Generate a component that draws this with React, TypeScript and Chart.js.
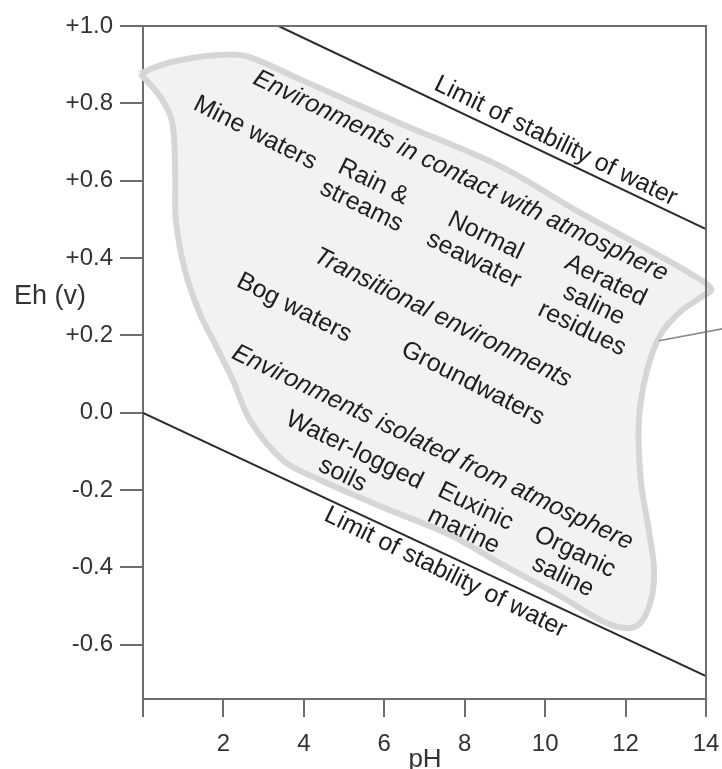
import React, { useEffect, useRef } from 'react';
import { Chart, registerables } from 'chart.js';

Chart.register(...registerables);

const FONT = "'Liberation Sans', Arial, Helvetica, sans-serif";
const AXIS_COLOR = '#6e6e6e';
const TEXT_COLOR = '#1e1e1e';

const X_TICKS = [0, 2, 4, 6, 8, 10, 12, 14];
const X_TICK_LABELS = ['', '2', '4', '6', '8', '10', '12', '14'];
const Y_TICKS = [-0.6, -0.4, -0.2, 0, 0.2, 0.4, 0.6, 0.8, 1.0];
const Y_TICK_LABELS = ['-0.6', '-0.4', '-0.2', '0.0', '+0.2', '+0.4', '+0.6', '+0.8', '+1.0'];
const X_MIN = 0;
const X_MAX = 14;
const Y_MIN = -0.74;
const Y_MAX = 1.0;

// Outline of the natural-environments field (pH, Eh)
const REGION_PH = [
  -0.07, 0.5, 1.35, 2.17, 2.67, 3.91, 6.4, 8.89, 10.89, 12.63, 13.63, 14.13,
  13.88, 13.38, 12.88, 12.53, 12.33, 12.38, 12.58, 12.71, 12.63, 12.38, 12.01,
  11.39, 10.39, 8.89, 7.65, 5.98, 5.16, 4.33, 3.49, 2.67, 2.24, 1.84, 1.42,
  1.05, 0.82, 0.8, 0.72, 0.42, -0.07,
];
const REGION_EH = [
  0.877, 0.901, 0.919, 0.926, 0.919, 0.862, 0.748, 0.637, 0.516, 0.418, 0.359, 0.32,
  0.299, 0.263, 0.204, 0.108, -0.021, -0.175, -0.305, -0.408, -0.485, -0.542, -0.557,
  -0.537, -0.475, -0.39, -0.317, -0.245, -0.209, -0.17, -0.124, -0.021, 0.083, 0.168, 0.255,
  0.366, 0.495, 0.625, 0.754, 0.818, 0.877,
];

const UPPER_LIMIT_PH = [3.37, 14];
const UPPER_LIMIT_EH = [1.0, 0.475];
const LOWER_LIMIT_PH = [0, 14];
const LOWER_LIMIT_EH = [0, -0.681];
const LEADER_PH = [12.83, 14.4];
const LEADER_EH = [0.186, 0.217];

type Note = { lines: string[]; x: number; y: number; angle: number; italic?: boolean };
const NOTES: Note[] = [
  { lines: ['Limit of stability of water'], x: 10.26, y: 0.702, angle: 26 },
  { lines: ['Environments in contact with atmosphere'], x: 7.9, y: 0.612, angle: 25.7, italic: true },
  { lines: ['Mine waters'], x: 2.79, y: 0.723, angle: 27 },
  { lines: ['Rain &', 'streams'], x: 5.58, y: 0.565, angle: 26 },
  { lines: ['Normal', 'seawater'], x: 8.37, y: 0.426, angle: 26 },
  { lines: ['Aerated', 'saline', 'residues'], x: 11.21, y: 0.279, angle: 26 },
  { lines: ['Transitional environments'], x: 7.45, y: 0.245, angle: 26.5, italic: true },
  { lines: ['Bog waters'], x: 3.76, y: 0.271, angle: 27 },
  { lines: ['Groundwaters'], x: 8.2, y: 0.075, angle: 27 },
  { lines: ['Environments isolated from atmosphere'], x: 7.2, y: -0.09, angle: 25.8, italic: true },
  { lines: ['Water-logged', 'soils'], x: 5.11, y: -0.129, angle: 26 },
  { lines: ['Euxinic', 'marine'], x: 8.12, y: -0.274, angle: 26 },
  { lines: ['Organic', 'saline'], x: 10.59, y: -0.392, angle: 26 },
  { lines: ['Limit of stability of water'], x: 7.52, y: -0.413, angle: 26.2 },
];

const NOTE_FONT_SIZE = 25;
const NOTE_LINE_HEIGHT = 27;

const toPoints = (xs: number[], ys: number[]) => xs.map((x, i) => ({ x, y: ys[i] }));

const annotationPlugin = {
  id: 'annotations',
  afterDatasetsDraw(chart: any) {
    const { ctx, chartArea, scales } = chart;
    ctx.save();
    // frame: top and right
    ctx.strokeStyle = AXIS_COLOR;
    ctx.lineWidth = 2;
    ctx.beginPath();
    ctx.moveTo(chartArea.left, chartArea.top);
    ctx.lineTo(chartArea.right, chartArea.top);
    ctx.lineTo(chartArea.right, chartArea.bottom);
    ctx.stroke();

    ctx.fillStyle = TEXT_COLOR;
    ctx.textAlign = 'center';
    ctx.textBaseline = 'middle';
    NOTES.forEach((n) => {
      const px = scales.x.getPixelForValue(n.x);
      const py = scales.y.getPixelForValue(n.y);
      ctx.save();
      ctx.translate(px, py);
      ctx.rotate((n.angle * Math.PI) / 180);
      ctx.font = `${n.italic ? 'italic ' : ''}${NOTE_FONT_SIZE}px ${FONT}`;
      const k = n.lines.length;
      n.lines.forEach((line, i) => {
        ctx.fillText(line, 0, (i - (k - 1) / 2) * NOTE_LINE_HEIGHT);
      });
      ctx.restore();
    });

    // axis titles
    ctx.fillStyle = '#333';
    ctx.textAlign = 'left';
    ctx.textBaseline = 'alphabetic';
    ctx.font = `27px ${FONT}`;
    ctx.fillText('Eh (v)', 14, 304);
    ctx.textAlign = 'center';
    ctx.font = `26px ${FONT}`;
    ctx.fillText('pH', 425, 767);
    ctx.restore();
  },
};

export default function App() {
  const ref = useRef<HTMLCanvasElement>(null);

  useEffect(() => {
    if (!ref.current) return;
    const chart = new Chart(ref.current, {
      type: 'scatter',
      data: {
        datasets: [
          {
            label: 'Upper limit',
            data: toPoints(UPPER_LIMIT_PH, UPPER_LIMIT_EH),
            showLine: true,
            borderColor: '#2b2b2b',
            borderWidth: 2,
            pointRadius: 0,
            order: 1,
          },
          {
            label: 'Lower limit',
            data: toPoints(LOWER_LIMIT_PH, LOWER_LIMIT_EH),
            showLine: true,
            borderColor: '#2b2b2b',
            borderWidth: 2,
            pointRadius: 0,
            order: 1,
          },
          {
            label: 'Leader',
            data: toPoints(LEADER_PH, LEADER_EH),
            showLine: true,
            borderColor: '#8a8a8a',
            borderWidth: 1.5,
            pointRadius: 0,
            clip: false,
            order: 2,
          },
          {
            label: 'Natural environments',
            data: toPoints(REGION_PH, REGION_EH),
            showLine: true,
            fill: 'shape',
            tension: 0.35,
            borderColor: '#d6d6d6',
            backgroundColor: '#f2f2f2',
            borderWidth: 6,
            borderJoinStyle: 'round',
            pointRadius: 0,
            clip: false,
            order: 3,
          } as any,
        ],
      },
      options: {
        animation: false,
        responsive: false,
        devicePixelRatio: 1,
        events: [],
        layout: { padding: { top: 26, right: 16, left: 0, bottom: 0 } },
        plugins: { legend: { display: false }, tooltip: { enabled: false }, title: { display: false } },
        scales: {
          x: {
            type: 'linear',
            min: X_MIN,
            max: X_MAX,
            afterBuildTicks: (s: any) => {
              s.ticks = X_TICKS.map((v) => ({ value: v }));
            },
            afterFit: (s: any) => {
              s.height = 70;
              s.paddingLeft = 0;
              s.paddingRight = 0;
            },
            grid: { drawOnChartArea: false, drawTicks: true, tickLength: 18, color: AXIS_COLOR, lineWidth: 2 },
            border: { color: AXIS_COLOR, width: 2 },
            ticks: {
              autoSkip: false,
              maxRotation: 0,
              padding: 13,
              color: '#333',
              font: { size: 24, family: FONT },
              callback: (v: any) => X_TICK_LABELS[X_TICKS.indexOf(Number(v))] ?? '',
            },
          },
          y: {
            type: 'linear',
            min: Y_MIN,
            max: Y_MAX,
            afterBuildTicks: (s: any) => {
              s.ticks = Y_TICKS.map((v) => ({ value: v }));
            },
            afterFit: (s: any) => {
              s.width = 143;
              s.paddingTop = 0;
              s.paddingBottom = 0;
            },
            grid: { drawOnChartArea: false, drawTicks: true, tickLength: 23, color: AXIS_COLOR, lineWidth: 2 },
            border: { color: AXIS_COLOR, width: 2 },
            ticks: {
              autoSkip: false,
              padding: 7,
              color: '#333',
              font: { size: 24, family: FONT },
              callback: (v: any) => Y_TICK_LABELS[Y_TICKS.indexOf(Number(v))] ?? '',
            },
          },
        },
      },
      plugins: [annotationPlugin],
    });
    return () => chart.destroy();
  }, []);

  return (
    <div style={{ position: 'fixed', left: 0, top: 0, width: 722, height: 769, background: '#fff' }}>
      <canvas ref={ref} width={722} height={769} style={{ display: 'block', width: 722, height: 769 }} />
    </div>
  );
}
